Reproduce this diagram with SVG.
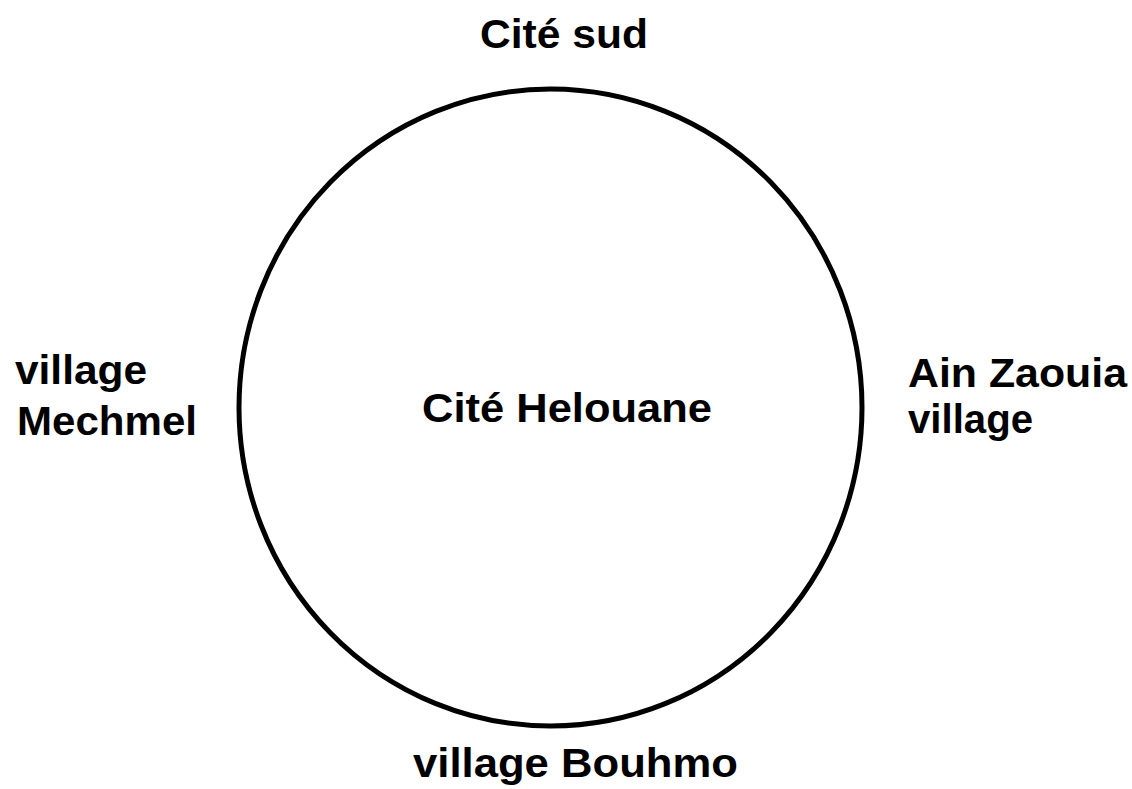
<svg xmlns="http://www.w3.org/2000/svg" width="1132" height="789" viewBox="0 0 1132 789">
<style>
.lbl{font-family:"Liberation Sans",Arial,sans-serif;font-weight:bold;font-size:40px;fill:#000}
.ring{fill:none;stroke:#000;stroke-width:5}
</style>
<rect width="1132" height="789" fill="#fff"/>
<g id="node-helouane">
<ellipse class="ring" cx="550.5" cy="407.5" rx="311.5" ry="318.5"/>
<text class="lbl" x="422" y="422" textLength="290" lengthAdjust="spacingAndGlyphs">Cité Helouane</text>
</g>
<g id="node-cite-sud">
<text class="lbl" x="480" y="48" textLength="168" lengthAdjust="spacingAndGlyphs">Cité sud</text>
</g>
<g id="node-mechmel">
<text class="lbl" x="15" y="384" textLength="132" lengthAdjust="spacingAndGlyphs">village</text>
<text class="lbl" x="17" y="435" textLength="180" lengthAdjust="spacingAndGlyphs">Mechmel</text>
</g>
<g id="node-ain-zaouia">
<text class="lbl" x="908" y="387" textLength="219" lengthAdjust="spacingAndGlyphs">Ain Zaouia</text>
<text class="lbl" x="908" y="433" textLength="125" lengthAdjust="spacingAndGlyphs">village</text>
</g>
<g id="node-bouhmo">
<text class="lbl" x="413" y="777" textLength="325" lengthAdjust="spacingAndGlyphs">village Bouhmo</text>
</g>
<g id="connectors"/>
</svg>
